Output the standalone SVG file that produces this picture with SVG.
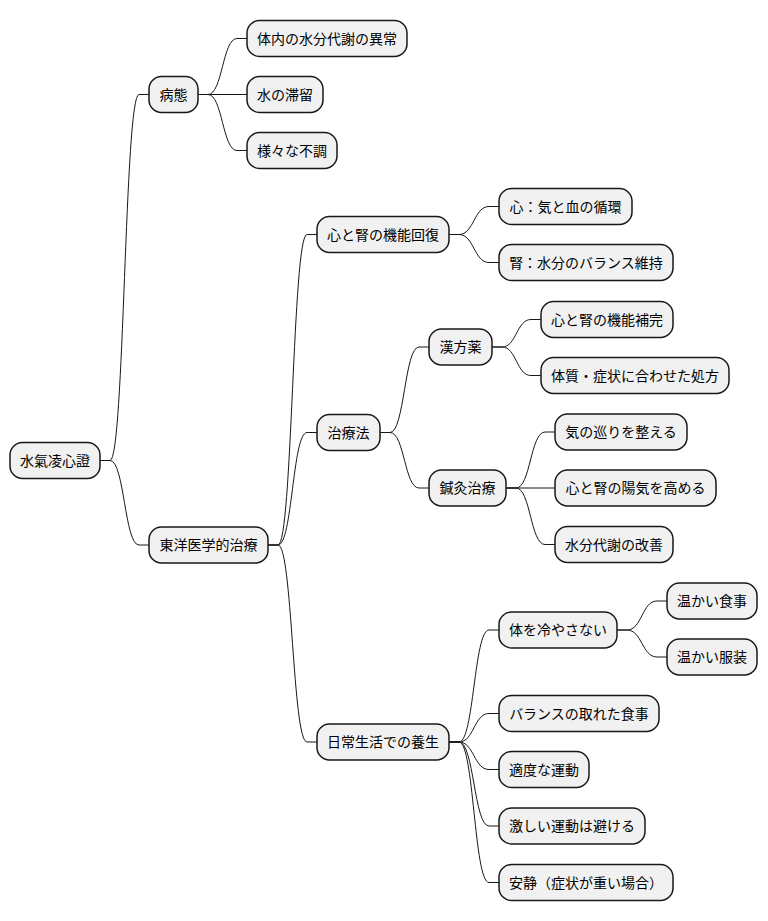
<svg xmlns="http://www.w3.org/2000/svg" width="768" height="921" viewBox="0 0 768 921">
<style>
.n rect{fill:#F1F1F1;stroke:#181818;stroke-width:1.5;}
.n text{font-family:"Noto Sans CJK JP","Noto Sans CJK SC",sans-serif;font-size:14px;fill:#000;text-anchor:middle;}
.c path{fill:none;stroke:#181818;stroke-width:1;}
</style>
<rect width="768" height="921" fill="#FFFFFF"/>
<g class="c" id="connectors">
<path d="M100,460.5 L110,460.5 C124.5,460.5 124.5,94.5 139,94.5 L149,94.5"/>
<path d="M100,460.5 L110,460.5 C124.5,460.5 124.5,545 139,545 L149,545"/>
<path d="M198,94.5 L208,94.5 C222.5,94.5 222.5,38.5 237,38.5 L247,38.5"/>
<path d="M198,94.5 L247,94.5"/>
<path d="M198,94.5 L208,94.5 C222.5,94.5 222.5,150.5 237,150.5 L247,150.5"/>
<path d="M268,545 L278,545 C292.5,545 292.5,234.5 307,234.5 L317,234.5"/>
<path d="M268,545 L278,545 C292.5,545 292.5,432.5 307,432.5 L317,432.5"/>
<path d="M268,545 L278,545 C292.5,545 292.5,742 307,742 L317,742"/>
<path d="M449,234.5 L459,234.5 C474,234.5 474,206.5 489,206.5 L499,206.5"/>
<path d="M449,234.5 L459,234.5 C474,234.5 474,262.5 489,262.5 L499,262.5"/>
<path d="M380,432.5 L390,432.5 C404.5,432.5 404.5,347 419,347 L429,347"/>
<path d="M380,432.5 L390,432.5 C404.5,432.5 404.5,488 419,488 L429,488"/>
<path d="M492,347 L502,347 C516.5,347 516.5,319.5 531,319.5 L541,319.5"/>
<path d="M492,347 L502,347 C516.5,347 516.5,375.5 531,375.5 L541,375.5"/>
<path d="M506,488 L516,488 C530.5,488 530.5,432 545,432 L555,432"/>
<path d="M506,488 L555,488"/>
<path d="M506,488 L516,488 C530.5,488 530.5,544.5 545,544.5 L555,544.5"/>
<path d="M449,742 L459,742 C474,742 474,630 489,630 L499,630"/>
<path d="M449,742 L459,742 C474,742 474,713.5 489,713.5 L499,713.5"/>
<path d="M449,742 L459,742 C474,742 474,769.5 489,769.5 L499,769.5"/>
<path d="M449,742 L459,742 C474,742 474,826 489,826 L499,826"/>
<path d="M449,742 L459,742 C474,742 474,882.5 489,882.5 L499,882.5"/>
<path d="M617,630 L627,630 C642,630 642,601 657,601 L667,601"/>
<path d="M617,630 L627,630 C642,630 642,657 657,657 L667,657"/>
</g>
<g class="n" id="n0"><rect x="10" y="442.5" width="90" height="36" rx="12.5"/><text x="55" y="465.5">水氣凌心證</text></g>
<g class="n" id="n1"><rect x="149" y="76.5" width="49" height="36" rx="12.5"/><text x="173.5" y="99.5">病態</text></g>
<g class="n" id="n1a"><rect x="247" y="20.5" width="160" height="36" rx="12.5"/><text x="327" y="43.5">体内の水分代謝の異常</text></g>
<g class="n" id="n1b"><rect x="247" y="76.5" width="76" height="36" rx="12.5"/><text x="285" y="99.5">水の滞留</text></g>
<g class="n" id="n1c"><rect x="247" y="132.5" width="90" height="36" rx="12.5"/><text x="292" y="155.5">様々な不調</text></g>
<g class="n" id="n2"><rect x="149" y="527" width="119" height="36" rx="12.5"/><text x="208.5" y="550">東洋医学的治療</text></g>
<g class="n" id="n2a"><rect x="317" y="216.5" width="132" height="36" rx="12.5"/><text x="383" y="239.5">心と腎の機能回復</text></g>
<g class="n" id="n2a1"><rect x="499" y="188.5" width="133" height="36" rx="12.5"/><text x="565.5" y="211.5">心：気と血の循環</text></g>
<g class="n" id="n2a2"><rect x="499" y="244.5" width="174" height="36" rx="12.5"/><text x="586" y="267.5">腎：水分のバランス維持</text></g>
<g class="n" id="n2b"><rect x="317" y="414.5" width="63" height="36" rx="12.5"/><text x="348.5" y="437.5">治療法</text></g>
<g class="n" id="n2b1"><rect x="429" y="329" width="63" height="36" rx="12.5"/><text x="460.5" y="352">漢方薬</text></g>
<g class="n" id="n2b1a"><rect x="541" y="301.5" width="132" height="36" rx="12.5"/><text x="607" y="324.5">心と腎の機能補完</text></g>
<g class="n" id="n2b1b"><rect x="541" y="357.5" width="188" height="36" rx="12.5"/><text x="635" y="380.5">体質・症状に合わせた処方</text></g>
<g class="n" id="n2b2"><rect x="429" y="470" width="77" height="36" rx="12.5"/><text x="467.5" y="493">鍼灸治療</text></g>
<g class="n" id="n2b2a"><rect x="555" y="414" width="132" height="36" rx="12.5"/><text x="621" y="437">気の巡りを整える</text></g>
<g class="n" id="n2b2b"><rect x="555" y="470" width="161" height="36" rx="12.5"/><text x="635.5" y="493">心と腎の陽気を高める</text></g>
<g class="n" id="n2b2c"><rect x="555" y="526.5" width="118" height="36" rx="12.5"/><text x="614" y="549.5">水分代謝の改善</text></g>
<g class="n" id="n2c"><rect x="317" y="724" width="132" height="36" rx="12.5"/><text x="383" y="747">日常生活での養生</text></g>
<g class="n" id="n2c1"><rect x="499" y="612" width="118" height="36" rx="12.5"/><text x="558" y="635">体を冷やさない</text></g>
<g class="n" id="n2c1a"><rect x="667" y="583" width="90" height="36" rx="12.5"/><text x="712" y="606">温かい食事</text></g>
<g class="n" id="n2c1b"><rect x="667" y="639" width="90" height="36" rx="12.5"/><text x="712" y="662">温かい服装</text></g>
<g class="n" id="n2c2"><rect x="499" y="695.5" width="160" height="36" rx="12.5"/><text x="579" y="718.5">バランスの取れた食事</text></g>
<g class="n" id="n2c3"><rect x="499" y="751.5" width="90" height="36" rx="12.5"/><text x="544" y="774.5">適度な運動</text></g>
<g class="n" id="n2c4"><rect x="499" y="808" width="146" height="36" rx="12.5"/><text x="572" y="831">激しい運動は避ける</text></g>
<g class="n" id="n2c5"><rect x="499" y="864.5" width="174" height="36" rx="12.5"/><text x="586" y="887.5">安静（症状が重い場合）</text></g>
</svg>
